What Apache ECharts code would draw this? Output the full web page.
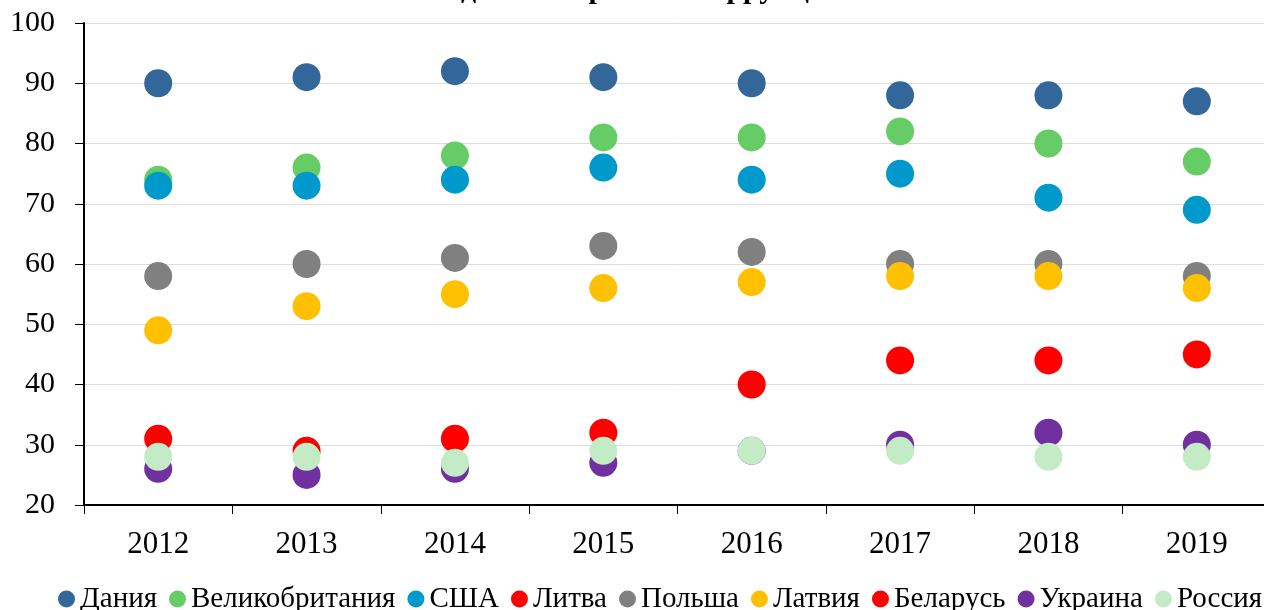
<!DOCTYPE html>
<html>
<head>
<meta charset="utf-8">
<script src="https://cdn.jsdelivr.net/npm/echarts@6/dist/echarts.min.js"></script>
<style>
  html, body { margin: 0; padding: 0; background: #fff; }
  #chart { width: 1264px; height: 610px; }
</style>
</head>
<body>
<div id="chart"></div>
<script>
const years = ["2012", "2013", "2014", "2015", "2016", "2017", "2018", "2019"];

const denmark = [90, 91, 92, 91, 90, 88, 88, 87];
const britain = [74, 76, 78, 81, 81, 82, 80, 77];
const usa = [73, 73, 74, 76, 74, 75, 71, 69];
const lithuania = [];
const poland = [58, 60, 61, 63, 62, 60, 60, 58];
const latvia = [49, 53, 55, 56, 57, 58, 58, 56];
const belarus = [31, 29, 31, 32, 40, 44, 44, 45];
const ukraine = [26, 25, 26, 27, 29, 30, 32, 30];
const russia = [28, 28, 27, 29, 29, 29, 28, 28];

const seriesList = [
  { name: "Дания", data: denmark, color: "#336699" },
  { name: "Великобритания", data: britain, color: "#66CC66" },
  { name: "США", data: usa, color: "#0099CC" },
  { name: "Литва", data: lithuania, color: "#FF0000" },
  { name: "Польша", data: poland, color: "#808080" },
  { name: "Латвия", data: latvia, color: "#FFC000" },
  { name: "Беларусь", data: belarus, color: "#FF0000" },
  { name: "Украина", data: ukraine, color: "#7030A0" },
  { name: "Россия", data: russia, color: "#C3EBC5" }
];

const font = "'Liberation Serif', 'DejaVu Serif', serif";

const chart = echarts.init(document.getElementById("chart"), null, { renderer: "canvas" });

chart.setOption({
  animation: false,
  backgroundColor: "#fff",
  title: {
    text: "Индекс восприятия коррупции",
    left: "center",
    top: -30,
    textStyle: { fontFamily: font, fontWeight: "bold", fontSize: 30, color: "#000" }
  },
  legend: {
    data: seriesList.map(s => s.name),
    left: 53,
    top: 578,
    width: 1400,
    icon: "circle",
    itemWidth: 17,
    itemHeight: 17,
    itemGap: 12,
    textStyle: { fontFamily: font, fontSize: 29, color: "#000", lineHeight: 32 }
  },
  grid: {
    left: 84,
    right: -7,
    top: 23,
    bottom: 105,
    containLabel: false,
    outerBoundsMode: "none"
  },
  xAxis: {
    type: "category",
    data: years,
    boundaryGap: true,
    axisLine: { lineStyle: { color: "#000", width: 2 } },
    axisTick: { show: true, length: 9, lineStyle: { color: "#000", width: 1 } },
    axisLabel: { margin: 24, fontFamily: font, fontSize: 31, color: "#000" },
    splitLine: { show: false }
  },
  yAxis: {
    type: "value",
    min: 20,
    max: 100,
    interval: 10,
    axisLine: { show: true, lineStyle: { color: "#000", width: 2 } },
    axisTick: { show: true, length: 9, lineStyle: { color: "#000", width: 1 } },
    axisLabel: { margin: 29, fontFamily: font, fontSize: 30, color: "#000" },
    splitLine: { lineStyle: { color: "#DDDDDD", width: 1 } }
  },
  series: seriesList.map(s => ({
    name: s.name,
    type: "scatter",
    data: s.data,
    symbol: "circle",
    symbolSize: 28,
    itemStyle: { color: s.color, opacity: 1 },
    emphasis: { disabled: true }
  }))
});
</script>
</body>
</html>
